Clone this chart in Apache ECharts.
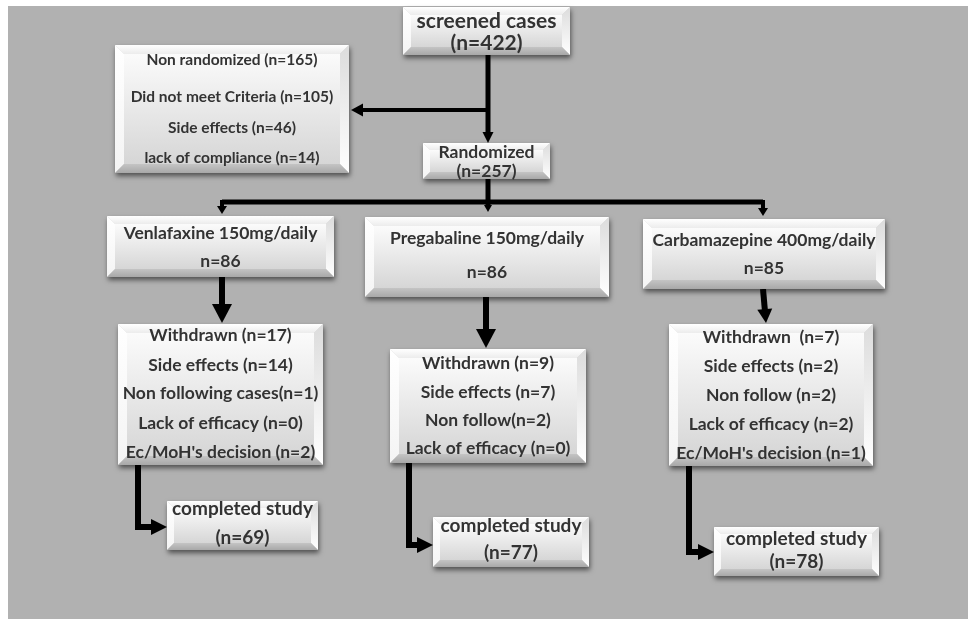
<!DOCTYPE html>
<html><head><meta charset="utf-8">
<script src="https://cdn.jsdelivr.net/npm/echarts@6/dist/echarts.min.js"></script>
<style>html,body{margin:0;padding:0;background:#b1b1b1;overflow:hidden}#c{width:968px;height:619px}</style>
</head><body><div id="c"></div>
<script>
// ---- Data (texts and counts) ----
const screenedText = ['screened cases', '(n=422)'];
const nonRandomizedText = ['Non randomized (n=165)', 'Did not meet Criteria (n=105)', 'Side effects (n=46)', 'lack of compliance (n=14)'];
const randomizedText = ['Randomized', '(n=257)'];
const armText = [
  ['Venlafaxine 150mg/daily', 'n=86'],
  ['Pregabaline 150mg/daily', 'n=86'],
  ['Carbamazepine 400mg/daily', 'n=85']
];
const withdrawnText = [
  ['Withdrawn (n=17)', 'Side effects (n=14)', 'Non following cases(n=1)', 'Lack of efficacy (n=0)', "Ec/MoH's decision (n=2)"],
  ['Withdrawn (n=9)', 'Side effects (n=7)', 'Non follow(n=2)', 'Lack of efficacy (n=0)'],
  ['Withdrawn  (n=7)', 'Side effects (n=2)', 'Non follow (n=2)', 'Lack of efficacy (n=2)', "Ec/MoH's decision (n=1)"]
];
const completedText = [
  ['completed study', '(n=69)'],
  ['completed study', '(n=77)'],
  ['completed study', '(n=78)']
];

// ---- Layout (positions / sizes / styles), in diagram units ----
const boxTexts = [screenedText, nonRandomizedText, randomizedText,
  armText[0], armText[1], armText[2],
  withdrawnText[0], withdrawnText[1], withdrawnText[2],
  completedText[0], completedText[1], completedText[2]];
const boxLayout = [
  {r: [403, 7, 570, 55],   ys: [21, 43], fs: 21, b: 8},
  {r: [115, 45, 349, 173], ys: [60, 97, 128, 158], fs: 15.5, b: 9},
  {r: [423, 143, 550, 179], ys: [152, 171], fs: 17.5, b: 7},
  {r: [107, 216, 334, 277], ys: [233, 261], fs: 17.5, b: 8},
  {r: [365, 217, 609, 297], ys: [238, 272], fs: 17.5, b: 9},
  {r: [643, 219, 885, 289], ys: [240, 268], fs: 17.5, b: 9},
  {r: [118, 324, 323, 465], ys: [335, 365, 393, 423, 452], fs: 17.5, b: 9},
  {r: [390, 349, 586, 463], ys: [363, 392, 420, 448], fs: 17.5, b: 9},
  {r: [669, 324, 873, 466], ys: [337, 366, 395, 424, 453], fs: 17.5, b: 9},
  {r: [167, 501, 318, 550], ys: [509, 538], fs: 19, b: 7},
  {r: [433, 517, 589, 567], ys: [526, 553], fs: 19, b: 7},
  {r: [714, 527, 879, 576], ys: [539, 562], fs: 19, b: 7}
];
const arrowLayout = [
  {p: [[488, 55], [488, 143]], w: 5, hw: 11, hl: 11},
  {p: [[488, 110], [351, 110]], w: 4, hw: 13, hl: 12},
  {p: [[488, 179], [488, 212]], w: 5, hw: 8, hl: 7},
  {p: [[222, 202], [763, 202]], w: 5, hw: 0, hl: 0},
  {p: [[232, 202], [222, 202], [222, 214]], w: 4, hw: 10, hl: 8},
  {p: [[753, 202], [763, 202], [763, 216]], w: 4, hw: 10, hl: 8},
  {p: [[222, 277], [222, 323]], w: 6, hw: 20, hl: 19},
  {p: [[486, 297], [486, 348]], w: 6, hw: 20, hl: 19},
  {p: [[763, 289], [766, 323]], w: 6, hw: 15, hl: 14},
  {p: [[138, 465], [138, 527], [167, 527]], w: 6, hw: 16, hl: 16},
  {p: [[409, 463], [409, 545], [433, 545]], w: 6, hw: 16, hl: 16},
  {p: [[689, 466], [689, 552], [714, 552]], w: 6, hw: 16, hl: 16}
];
// white margins at left and top of the picture
const marginRects = [[0, 0, 8, 619], [0, 0, 968, 6]];
const FONT = 'Lato';

function grad(c0, c1) {
  return new echarts.graphic.LinearGradient(0, 0, 0, 1, [{offset: 0, color: c0}, {offset: 1, color: c1}]);
}

const chart = echarts.init(document.getElementById('c'));
chart.setOption({
  animation: false,
  backgroundColor: '#b1b1b1',
  grid: {left: 0, right: 0, top: 0, bottom: 0},
  xAxis: {type: 'value', min: 0, max: 968, show: false},
  yAxis: {type: 'value', min: 0, max: 619, inverse: true, show: false},
  series: [
    {
      type: 'custom', z: 1, clip: false,
      data: marginRects.map((d, i) => i),
      renderItem: function (params, api) {
        const R = marginRects[api.value(0)];
        const a = api.coord([R[0], R[1]]);
        const b = api.coord([R[2], R[3]]);
        return {type: 'rect', shape: {x: a[0], y: a[1], width: b[0] - a[0], height: b[1] - a[1]},
          style: {fill: '#ffffff'}};
      }
    },
    {
      type: 'custom', z: 2,
      data: arrowLayout.map((d, i) => i),
      renderItem: function (params, api) {
        const L = arrowLayout[api.value(0)];
        const pts = L.p.map(p => api.coord(p));
        const children = [];
        let end = pts[pts.length - 1];
        const prev = pts[pts.length - 2];
        const dx = end[0] - prev[0], dy = end[1] - prev[1];
        const len = Math.sqrt(dx * dx + dy * dy) || 1;
        const ux = dx / len, uy = dy / len;
        const linePts = pts.slice();
        if (L.hl > 0) {
          linePts[linePts.length - 1] = [end[0] - ux * L.hl * 0.8, end[1] - uy * L.hl * 0.8];
        }
        children.push({type: 'polyline', shape: {points: linePts},
          style: {stroke: '#000', lineWidth: L.w, fill: null, lineJoin: 'miter'}});
        if (L.hl > 0) {
          const bx = end[0] - ux * L.hl, by = end[1] - uy * L.hl;
          const nx = -uy, ny = ux;
          children.push({type: 'polygon', shape: {points: [
            end, [bx + nx * L.hw / 2, by + ny * L.hw / 2], [bx - nx * L.hw / 2, by - ny * L.hw / 2]]},
            style: {fill: '#000'}});
        }
        return {type: 'group', children: children};
      }
    },
    {
      type: 'custom', z: 3,
      data: boxLayout.map((d, i) => i),
      renderItem: function (params, api) {
        const i = api.value(0);
        const L = boxLayout[i];
        const p0 = api.coord([L.r[0], L.r[1]]);
        const p1 = api.coord([L.r[2], L.r[3]]);
        const x0 = p0[0], y0 = p0[1], x1 = p1[0], y1 = p1[1];
        const w = x1 - x0, h = y1 - y0, b = L.b;
        const cx = (x0 + x1) / 2;
        const children = [
          {type: 'rect', shape: {x: x0, y: y0, width: w, height: h},
            style: {fill: '#d0d0d0', shadowBlur: 5, shadowColor: 'rgba(0,0,0,0.55)', shadowOffsetX: 1, shadowOffsetY: 3}},
          {type: 'polygon', shape: {points: [[x0, y0], [x1, y0], [x1 - b, y0 + b], [x0 + b, y0 + b]]},
            style: {fill: grad('#ffffff', '#ececec')}},
          {type: 'polygon', shape: {points: [[x0, y0], [x0 + b, y0 + b], [x0 + b, y1 - b], [x0, y1]]},
            style: {fill: grad('#ffffff', '#f4f4f4')}},
          {type: 'polygon', shape: {points: [[x1, y0], [x1, y1], [x1 - b, y1 - b], [x1 - b, y0 + b]]},
            style: {fill: grad('#dcdcdc', '#ffffff')}},
          {type: 'polygon', shape: {points: [[x0, y1], [x1, y1], [x1 - b, y1 - b], [x0 + b, y1 - b]]},
            style: {fill: grad('#c4c4c4', '#a8a8a8')}},
          {type: 'rect', shape: {x: x0 + b, y: y0 + b, width: w - 2 * b, height: h - 2 * b},
            style: {fill: grad('#fbfbfb', '#d6d6d6')}}
        ];
        boxTexts[i].forEach((t, k) => {
          const py = api.coord([0, L.ys[k]])[1];
          children.push({type: 'text', x: cx, y: py,
            style: {text: t, fill: '#333333', font: 'bold ' + L.fs + 'px ' + FONT,
              textAlign: 'center', textVerticalAlign: 'middle'}});
        });
        return {type: 'group', children: children};
      }
    }
  ]
});
</script>
</body></html>
